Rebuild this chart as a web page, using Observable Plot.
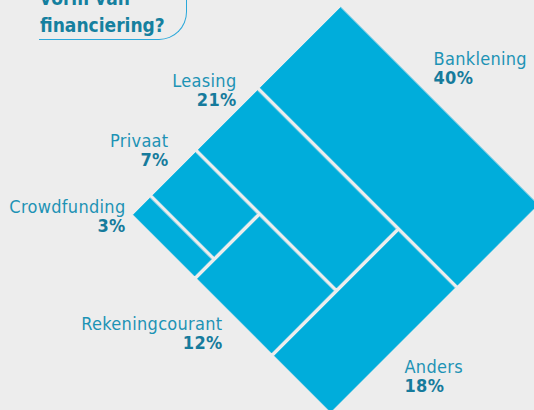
<!DOCTYPE html>
<html>
<head>
<meta charset="utf-8">
<script src="https://cdn.jsdelivr.net/npm/d3@7"></script>
<script src="https://cdn.jsdelivr.net/npm/@observablehq/plot@0.6"></script>
<style>
  html, body { margin: 0; padding: 0; background: #ededed; }
  #wrap { position: relative; width: 534px; height: 410px; overflow: hidden; background: #ededed; }
  #wrap svg { position: absolute; left: 0; top: 0; }
  #title {
    position: absolute; left: 39px; top: -15px; width: 146px; height: 54px;
    border-bottom: 1.5px solid #2aa8da; border-right: 1.5px solid #2aa8da;
    border-bottom-right-radius: 28px;
    font-family: "DejaVu Sans Condensed", "DejaVu Sans", sans-serif; font-stretch: condensed;
    font-weight: bold; font-size: 19px; line-height: 27px; color: #15809f;
    padding-left: 1px; box-sizing: content-box; z-index: 2;
  }
</style>
</head>
<body>
<div id="wrap">
  <div id="title">vorm van<br>financiering?</div>
</div>
<script>
// ---- data ----
const categories = ["Banklening", "Leasing", "Anders", "Rekeningcourant", "Privaat", "Crowdfunding"];
const shares = [40, 21, 18, 12, 7, 3];
const pctLabels = ["40%", "21%", "18%", "12%", "7%", "3%"];
// order in which the rotated treemap is split (alternating the two diagonal directions)
const splitOrder = ["Banklening", "Anders", "Leasing", "Rekeningcourant", "Privaat", "Crowdfunding"];

// ---- layout (not data) ----
const origin = {x: 340, y: 7};      // top corner of the rotated block
const sizeU = 293, sizeV = 279;     // lengths of the two diagonal sides
const gap = 4;
const labelLayout = {
  Banklening:      {x: 433, y: 64,  anchor: "start"},
  Leasing:         {x: 236, y: 86,  anchor: "end"},
  Privaat:         {x: 168, y: 146, anchor: "end"},
  Crowdfunding:    {x: 125, y: 212, anchor: "end"},
  Rekeningcourant: {x: 222, y: 329, anchor: "end"},
  Anders:          {x: 404, y: 372, anchor: "start"}
};

function nest(names, depth) {
  const leaf = {name: names[0], value: shares[categories.indexOf(names[0])]};
  if (names.length === 1) return leaf;
  const rest = nest(names.slice(1), depth + 1);
  return {children: depth % 2 === 0 ? [leaf, rest] : [rest, leaf]};
}
const root = d3.hierarchy(nest(splitOrder, 0)).sum(d => d.value || 0);
d3.treemap().tile(d3.treemapSliceDice).size([sizeU, sizeV]).paddingInner(gap).round(false)(root);

const s = Math.SQRT1_2;
const toX = (u, v) => origin.x + (v - u) * s;
const toY = (u, v) => origin.y + (u + v) * s;
const corners = [];
for (const leaf of root.leaves()) {
  const {x0, x1, y0, y1} = leaf;
  for (const [u, v] of [[x0, y0], [x1, y0], [x1, y1], [x0, y1]]) {
    corners.push({name: leaf.data.name, X: toX(u, v), Y: toY(u, v)});
  }
}

const labels = categories.map((c, i) => ({
  name: c, pct: pctLabels[i], ...labelLayout[c]
}));

const font = "'DejaVu Sans Condensed', 'DejaVu Sans', sans-serif";
const textMarks = [];
for (const anchor of ["start", "end"]) {
  textMarks.push(Plot.text(labels, {
    filter: d => d.anchor === anchor, x: "x", y: "y", text: "name",
    textAnchor: anchor, lineAnchor: "bottom", fontFamily: font, fontSize: 18, fill: "#1d93b5"
  }));
  textMarks.push(Plot.text(labels, {
    filter: d => d.anchor === anchor, x: "x", y: d => d.y + 19.5, text: "pct",
    textAnchor: anchor, lineAnchor: "bottom", fontFamily: font, fontSize: 18, fontWeight: "bold", fill: "#167b9c"
  }));
}

const chart = Plot.plot({
  width: 534, height: 410, margin: 0,
  x: {type: "identity", axis: null},
  y: {type: "identity", axis: null},
  style: {background: "#ededed", fontFamily: font, letterSpacing: "0.3px"},
  marks: [
    Plot.line(corners, {x: "X", y: "Y", z: "name", curve: "linear-closed",
      fill: "#00addb", stroke: "#00addb", strokeWidth: 0.6, strokeLinejoin: "round"}),
    ...textMarks
  ]
});
document.getElementById("wrap").prepend(chart);
</script>
</body>
</html>
